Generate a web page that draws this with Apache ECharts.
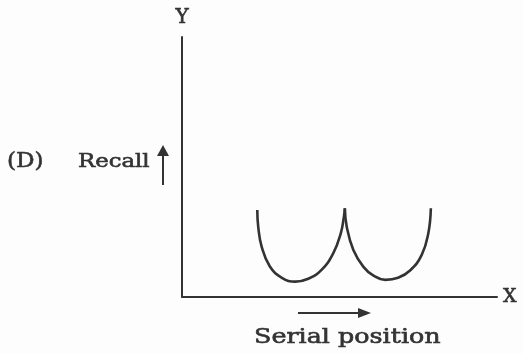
<!DOCTYPE html>
<html>
<head>
<meta charset="UTF-8">
<script src="https://cdn.jsdelivr.net/npm/echarts@6/dist/echarts.min.js"></script>
<style>
  html, body { margin: 0; padding: 0; background: #fdfdfd; }
  #chart { width: 523px; height: 354px; }
</style>
</head>
<body>
<div id="chart"></div>
<script>
  // curve points (x = serial position, y = recall, 0-100 scale)
  var leftX  = [23.9, 24.2, 25.3, 27.9, 31.7, 36.0, 40.1, 44.3, 48.0, 50.4, 51.4, 51.7];
  var leftY  = [33.5, 27.0, 19.3, 11.7, 7.4, 5.9, 7.0, 10.4, 16.8, 24.5, 30.9, 34.1];
  var rightX = [51.7, 52.3, 54.4, 57.6, 60.8, 64.6, 68.6, 72.4, 76.1, 78.2, 79.0];
  var rightY = [34.1, 27.0, 18.1, 11.6, 8.2, 6.6, 7.4, 10.2, 16.2, 24.5, 34.1];

  var ink = '#333333';
  var font = '"DejaVu Serif", serif';

  function pairs(xs, ys) {
    return xs.map(function (x, i) { return [x, ys[i]]; });
  }

  function label(text, x, y, size, sx) {
    return {
      type: 'text', x: x, y: y, scaleX: sx,
      style: { text: text, fill: ink, stroke: ink, lineWidth: 0.6, font: size + 'px ' + font }
    };
  }

  var chart = echarts.init(document.getElementById('chart'));

  chart.setOption({
    backgroundColor: '#fdfdfd',
    animation: false,
    grid: { left: 182, right: 26, top: 37, bottom: 57 },
    xAxis: {
      type: 'value', min: 0, max: 100,
      name: 'X', nameGap: 6,
      nameTextStyle: { color: ink, fontFamily: font, fontSize: 19, textBorderColor: ink, textBorderWidth: 0.6 },
      axisLine: { lineStyle: { color: ink, width: 2 } },
      axisTick: { show: false }, axisLabel: { show: false }, splitLine: { show: false }
    },
    yAxis: {
      type: 'value', min: 0, max: 100,
      name: 'Y', nameGap: 9,
      nameTextStyle: { color: ink, fontFamily: font, fontSize: 20, align: 'center', textBorderColor: ink, textBorderWidth: 0.6 },
      axisLine: { lineStyle: { color: ink, width: 2 } },
      axisTick: { show: false }, axisLabel: { show: false }, splitLine: { show: false }
    },
    series: [
      {
        type: 'line', data: pairs(leftX, leftY), smooth: 0.45,
        showSymbol: false, lineStyle: { color: ink, width: 2.6 }
      },
      {
        type: 'line', data: pairs(rightX, rightY), smooth: 0.45,
        showSymbol: false, lineStyle: { color: ink, width: 2.6 }
      }
    ],
    graphic: [
      label('(D)', 7, 151, 21, 1.1),
      label('Recall', 78, 153, 19, 1.2),
      { type: 'line', shape: { x1: 163, y1: 152, x2: 163, y2: 185 }, style: { stroke: ink, lineWidth: 2 } },
      { type: 'polygon', shape: { points: [[157, 156], [163, 145], [169, 156]] }, style: { fill: ink } },
      { type: 'line', shape: { x1: 298, y1: 313, x2: 362, y2: 313 }, style: { stroke: ink, lineWidth: 2.2 } },
      { type: 'polygon', shape: { points: [[358, 308], [371, 313], [358, 318]] }, style: { fill: ink } },
      label('Serial position', 254, 328, 20, 1.27)
    ]
  });
</script>
</body>
</html>
